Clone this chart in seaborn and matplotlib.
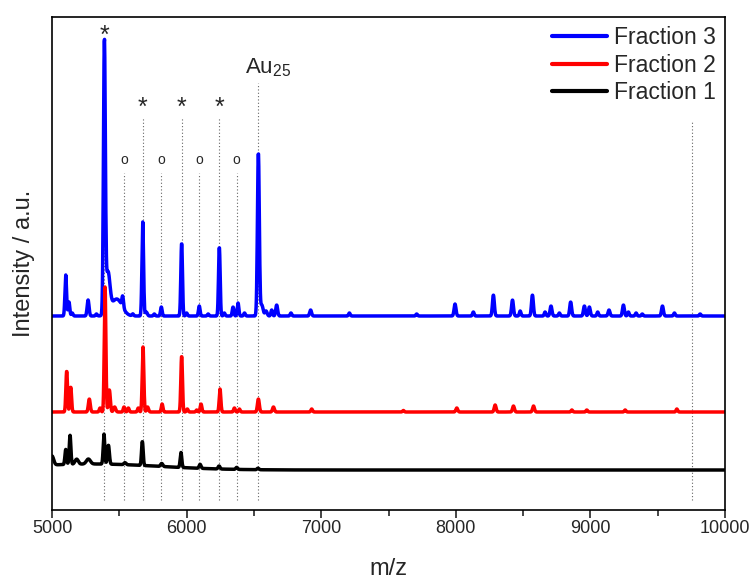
import numpy as np
import pandas as pd
import matplotlib
matplotlib.use('Agg')
import matplotlib.pyplot as plt
import seaborn as sns

# peak lists: m/z, height above the trace baseline, width (Da)
f3_mz = [5102, 5126, 5150, 5268, 5330, 5389, 5415, 5480, 5525, 5600, 5674, 5700, 5760,
         5812, 5963, 6000, 6094, 6160, 6243, 6280, 6345, 6382, 6430, 6533, 6558, 6590,
         6632, 6669, 6775, 6921, 7209, 7709, 7994, 8130, 8279, 8421, 8478, 8569, 8663,
         8707, 8769, 8853, 8955, 8992, 9054, 9138, 9245, 9282, 9339, 9385, 9535, 9624, 9815]
f3_h = [41, 14, 3, 16, 2, 268, 40, 17, 11, 2, 94, 4, 2,
        9, 73, 3, 10, 2, 69, 3, 9, 13, 3, 163, 11, 5,
        6, 11, 3, 6, 3, 2, 12, 4, 21, 16, 5, 21, 4,
        10, 3, 14, 10, 9, 4, 6, 11, 4, 3, 2, 10, 3, 2]
f3_w = [6, 6, 6, 7, 6, 7, 15, 40, 6, 6, 6, 8, 6,
        6, 6, 6, 6, 6, 6, 6, 6, 6, 6, 7, 10, 8,
        6, 7, 6, 7, 6, 6, 7, 6, 7, 7, 6, 7, 6,
        7, 6, 7, 7, 7, 6, 7, 7, 6, 6, 6, 7, 6, 6]

f2_mz = [5109, 5139, 5277, 5357, 5394, 5426, 5465, 5535, 5567, 5641, 5676, 5710, 5818,
         5963, 6005, 6075, 6107, 6248, 6355, 6392, 6533, 6645, 6929, 7610, 8007, 8292,
         8428, 8577, 8862, 8973, 9258, 9642]
f2_h = [41, 25, 13, 4, 125, 22, 5, 5, 4, 4, 65, 5, 8,
        56, 3, 2, 8, 23, 4, 3, 13, 5, 3, 1.5, 4, 7,
        6, 6, 2, 2, 2, 3]
f2_w = [6, 6, 7, 6, 6, 7, 8, 6, 6, 6, 6, 7, 6,
        6, 6, 6, 6, 6, 6, 6, 7, 7, 6, 6, 7, 7,
        7, 7, 6, 6, 6, 6]

f1_mz = [5300, 5000, 5102, 5134, 5183, 5270, 5386, 5419, 5542, 5671, 5815, 5958, 6100, 6241, 6372, 6530]
f1_h = [6, 9, 15, 29, 5, 5, 30, 19, 2, 24, 3, 15, 4, 3, 2, 1.5]
f1_w = [500, 12, 6, 6, 12, 15, 6, 7, 8, 6, 8, 6, 7, 7, 7, 7]

# baselines of the stacked traces
f3_base = 194
f2_base = 98
f1_base = 40

star_mz = [5389, 5674, 5963, 6243]
circle_mz = [5537, 5812, 6094, 6372]
au25_mz = 6533
edge_mz = 9757


def spectrum(mz, centers, heights, widths, base):
    y = np.full_like(mz, float(base))
    for c, h, w in zip(centers, heights, widths):
        y += h * np.exp(-0.5 * ((mz - c) / w) ** 2)
    return y


mz = np.arange(5000, 10000.5, 2.0)
df = pd.DataFrame({'mz': mz,
                   'f3': spectrum(mz, f3_mz, f3_h, f3_w, f3_base),
                   'f2': spectrum(mz, f2_mz, f2_h, f2_w, f2_base),
                   'f1': spectrum(mz, f1_mz, f1_h, f1_w, f1_base)})

sns.set_style("ticks")
plt.rcParams['font.family'] = ['Liberation Sans', 'DejaVu Sans']
plt.rcParams['mathtext.fontset'] = 'custom'
plt.rcParams['mathtext.rm'] = 'Liberation Sans'
plt.rcParams['mathtext.it'] = 'Liberation Sans'
plt.rcParams['mathtext.default'] = 'regular'

fig = plt.figure(figsize=(7.54, 5.82), dpi=100)
ax = fig.add_axes([0.069, 72 / 582, 0.8926, 493 / 582])

# reference lines behind the spectra
ax.vlines(star_mz[0], 10, 472, colors='0.4', linestyles=(0, (1, 2)), lw=0.8, zorder=0.5)
ax.vlines(star_mz[1:], 10, 393, colors='0.4', linestyles=(0, (1, 2)), lw=0.8, zorder=0.5)
ax.vlines(circle_mz, 10, 337, colors='0.4', linestyles=(0, (1, 2)), lw=0.8, zorder=0.5)
ax.vlines(au25_mz, 10, 427, colors='0.4', linestyles=(0, (1, 2)), lw=0.8, zorder=0.5)
ax.vlines(edge_mz, 10, 390, colors='0.4', linestyles=(0, (1, 2)), lw=0.8, zorder=0.5)

sns.lineplot(data=df, x='mz', y='f3', color='#0000ff', lw=2.5, label='Fraction 3',
             estimator=None, sort=False, ax=ax)
sns.lineplot(data=df, x='mz', y='f2', color='#ff0000', lw=2.5, label='Fraction 2',
             estimator=None, sort=False, ax=ax)
sns.lineplot(data=df, x='mz', y='f1', color='#000000', lw=2.5, label='Fraction 1',
             estimator=None, sort=False, ax=ax)

ax.text(star_mz[0], 474, '*', fontsize=18, ha='center', va='center')
for x in star_mz[1:]:
    ax.text(x, 402, '*', fontsize=18, ha='center', va='center')
for x in circle_mz:
    ax.text(x, 350, 'o', fontsize=10, ha='center', va='center')
ax.text(6434, 442, 'Au$_{25}$', fontsize=16, ha='left', va='center')

ax.set_xlim(5000, 10000)
ax.set_ylim(0, 493)
ax.set_xticks([5000, 6000, 7000, 8000, 9000, 10000])
ax.set_xticks(np.arange(5500, 10000, 1000), minor=True)
ax.set_yticks([])
ax.tick_params(axis='x', which='major', direction='out', length=6, width=1.2,
               labelsize=13, pad=1)
ax.tick_params(axis='x', which='minor', direction='out', length=4, width=1.2)
for s in ax.spines.values():
    s.set_linewidth(1.2)
    s.set_color('black')

ax.set_xlabel('m/z', fontsize=17, labelpad=15)
ax.set_ylabel('Intensity / a.u.', fontsize=17, labelpad=12)

ax.legend(loc='upper right', frameon=False, fontsize=16.5, handlelength=2.4,
          handletextpad=0.3, labelspacing=0.2, borderpad=0, borderaxespad=0.4)
for line in ax.get_legend().get_lines():
    line.set_linewidth(3)

fig.savefig('out.png', dpi=100)
